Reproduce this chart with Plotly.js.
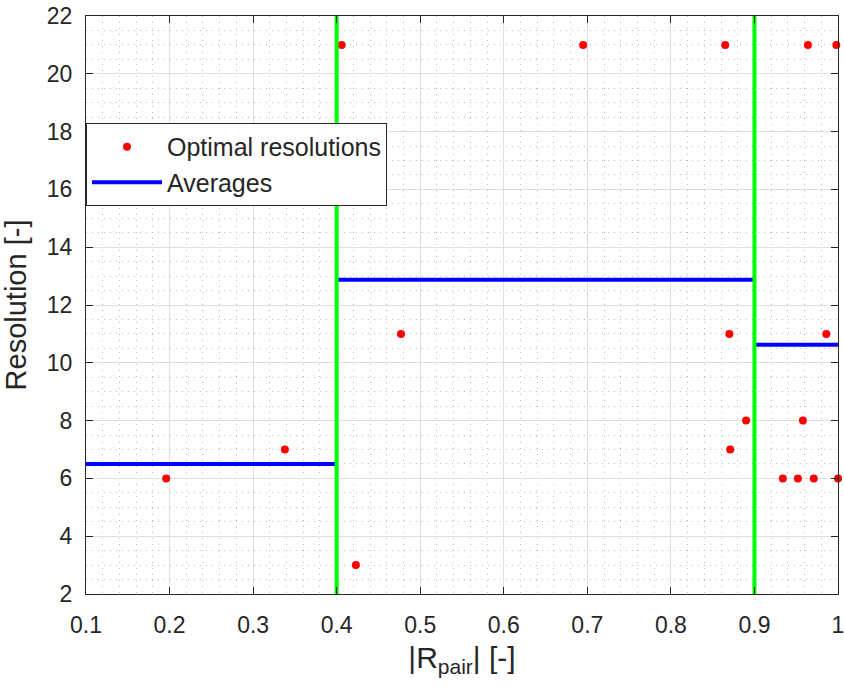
<!DOCTYPE html>
<html>
<head>
<meta charset="utf-8">
<script src="https://cdn.plot.ly/plotly-3.0.1.min.js"></script>
<style>html,body{margin:0;padding:0;background:#fff;}#chart{width:844px;height:691px;}</style>
</head>
<body>
<div id="chart"></div>
<script>
// Optimal resolutions (points)
var rPair = [0.196, 0.338, 0.406, 0.423, 0.477, 0.695, 0.865, 0.870, 0.871, 0.890, 0.934, 0.952, 0.958, 0.964, 0.971, 0.986, 0.998, 1.0];
var resolution = [6, 7, 21, 3, 11, 21, 21, 11, 7, 8, 6, 6, 8, 21, 6, 11, 21, 6];
// Group averages
var segStart = [0.1, 0.4, 0.9];
var segEnd = [0.4, 0.9, 1.0];
var averages = [6.5, 12.875, 10.625];
// Group boundaries (vertical lines)
var boundaries = [0.4, 0.9];
var yLimits = [2, 22];
// Ticks
var xTicks = [0.1, 0.2, 0.3, 0.4, 0.5, 0.6, 0.7, 0.8, 0.9, 1];
var xTickText = ['0.1', '0.2', '0.3', '0.4', '0.5', '0.6', '0.7', '0.8', '0.9', '1'];
var yTicks = [2, 4, 6, 8, 10, 12, 14, 16, 18, 20, 22];

var avgX = [], avgY = [];
for (var i = 0; i < averages.length; i++) {
  avgX.push(segStart[i], segEnd[i], null);
  avgY.push(averages[i], averages[i], null);
}
var bndX = [], bndY = [];
for (var j = 0; j < boundaries.length; j++) {
  bndX.push(boundaries[j], boundaries[j], null);
  bndY.push(yLimits[0], yLimits[1], null);
}

var traces = [
  {x: rPair, y: resolution, type: 'scatter', mode: 'markers', name: 'Optimal resolutions',
   marker: {color: '#ff0000', size: 8}, cliponaxis: false},
  {x: avgX, y: avgY, type: 'scatter', mode: 'lines', name: 'Averages',
   line: {color: '#0000ff', width: 4}},
  {x: bndX, y: bndY, type: 'scatter', mode: 'lines', name: 'Boundaries', showlegend: false,
   line: {color: '#00ff00', width: 4}}
];

var fontFam = 'Liberation Sans, Arial, Helvetica, sans-serif';
var axCommon = {
  showline: true, linecolor: '#262626', linewidth: 1, mirror: 'ticks',
  ticks: 'inside', ticklen: 7, tickcolor: '#262626', tickwidth: 1,
  showgrid: true, gridcolor: '#dedede', gridwidth: 1, zeroline: false,
  ticklabeloverflow: 'allow',
  tickfont: {family: fontFam, size: 23, color: '#262626'}
};

var layout = {
  width: 844, height: 691,
  margin: {l: 86, r: 6, t: 16, b: 97},
  paper_bgcolor: '#ffffff', plot_bgcolor: '#ffffff',
  font: {family: fontFam, color: '#262626'},
  showlegend: true,
  legend: {x: 0, xanchor: 'left', y: 0.815, yanchor: 'top', xref: 'paper', yref: 'paper',
    bgcolor: '#ffffff', bordercolor: '#262626', borderwidth: 1,
    font: {family: fontFam, size: 25, color: '#262626'}, itemwidth: 70, tracegroupgap: 0},
  xaxis: Object.assign({}, axCommon, {
    range: [0.1, 1], tickmode: 'array', tickvals: xTicks, ticktext: xTickText,
    ticklabelstandoff: 10,
    minor: {dtick: 0.02, showgrid: true, gridcolor: '#bcbcbc', griddash: '1px,5px', gridwidth: 1, ticks: ''},
    title: {text: '|R<sub>pair</sub>| [-]', font: {family: fontFam, size: 30, color: '#262626'}, standoff: 10}
  }),
  yaxis: Object.assign({}, axCommon, {
    range: [2, 22], tickmode: 'array', tickvals: yTicks,
    ticklabelstandoff: 8,
    minor: {dtick: 0.5, showgrid: true, gridcolor: '#bcbcbc', griddash: '1px,5px', gridwidth: 1, ticks: ''},
    title: {text: 'Resolution [-]', font: {family: fontFam, size: 29, color: '#262626'}, standoff: 12}
  })
};

Plotly.newPlot('chart', traces, layout, {displayModeBar: false, staticPlot: true});
</script>
</body>
</html>
